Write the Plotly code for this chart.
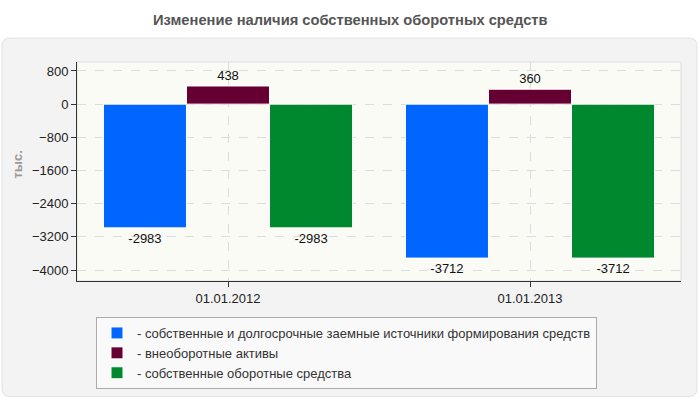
import plotly.graph_objects as go

categories = ["01.01.2012", "01.01.2013"]
series_names = [
    "- собственные и долгосрочные заемные источники формирования средств",
    "- внеоборотные активы",
    "- собственные оборотные средства",
]
values_own_long = [-2983, -3712]
values_noncurrent = [438, 360]
values_working = [-2983, -3712]
colors = ["#0066ff", "#660033", "#00882f"]
y_ticks = [800, 0, -800, -1600, -2400, -3200, -4000]

W, H = 700, 400
L, R, T, B = 77, 681, 62, 282

def px(x):
    return (x - L) / (R - L)

def py(y):
    return (B - y) / (B - T)

def rrect(x0, y0, x1, y1, r):
    def P(x, y):
        return f"{px(x):.5f},{py(y):.5f}"
    return (f"M {P(x0+r, y0)} L {P(x1-r, y0)} Q {P(x1, y0)} {P(x1, y0+r)} "
            f"L {P(x1, y1-r)} Q {P(x1, y1)} {P(x1-r, y1)} L {P(x0+r, y1)} "
            f"Q {P(x0, y1)} {P(x0, y1-r)} L {P(x0, y0+r)} Q {P(x0, y0)} {P(x0+r, y0)} Z")

fig = go.Figure()
for name, vals, col in zip(series_names, [values_own_long, values_noncurrent, values_working], colors):
    fig.add_trace(go.Bar(
        x=categories, y=vals, name=name,
        marker=dict(color=col, line=dict(color="white", width=1)),
        text=[str(v) for v in vals], textposition="outside",
        textfont=dict(family="Liberation Sans, Arial", size=13, color="#111"),
        cliponaxis=False,
    ))

font = "Liberation Sans, Arial, sans-serif"
fig.update_layout(
    width=W, height=H,
    margin=dict(l=L, r=W - R, t=T, b=H - B, pad=0),
    paper_bgcolor="white",
    plot_bgcolor="rgba(0,0,0,0)",
    barmode="group", bargap=0.175, bargroupgap=0,
    font=dict(family=font, size=13, color="#222"),
    showlegend=True,
    legend=dict(
        x=px(96), y=py(317), xanchor="left", yanchor="top",
        bgcolor="#f9f9f9", bordercolor="#aaaaaa", borderwidth=1,
        font=dict(family=font, size=13, color="#333"),
        tracegroupgap=0, itemwidth=30,
    ),
    xaxis=dict(
        range=[-0.5, 1.5], showline=True, linecolor="#333", linewidth=1,
        ticks="outside", ticklen=5, tickcolor="#333",
        showgrid=True, gridcolor="#dddddd", griddash="dash",
        tickfont=dict(family=font, size=13, color="#222"),
    ),
    yaxis=dict(
        range=[-4264, 1016], tickvals=y_ticks, showline=True, linecolor="#333", linewidth=1,
        ticks="outside", ticklen=5, tickcolor="#333",
        showgrid=True, gridcolor="#dddddd", griddash="dash", zeroline=False,
        tickfont=dict(family=font, size=13, color="#222"),
    ),
    shapes=[
        dict(type="path", xref="paper", yref="paper", layer="below",
             path=rrect(2, 38, 697, 398, 8), fillcolor="#f3f3f3",
             line=dict(color="#e2e2e2", width=1)),
        dict(type="rect", xref="paper", yref="paper", layer="below",
             x0=0, y0=0, x1=1, y1=1, fillcolor="#fbfbf6",
             line=dict(color="#dddddd", width=1)),
    ],
    annotations=[
        dict(text="<b>Изменение наличия собственных оборотных средств</b>",
             xref="paper", yref="paper", x=px(350), y=py(20), xanchor="center", yanchor="middle",
             showarrow=False, font=dict(family=font, size=14.7, color="#555")),
        dict(text="<b>тыс.</b>", textangle=-90,
             xref="paper", yref="paper", x=px(18), y=py(165), xanchor="center", yanchor="middle",
             showarrow=False, font=dict(family=font, size=13, color="#999")),
    ],
)

fig.write_html("out.html", config={"displayModeBar": False},
               post_script="document.body.style.margin='0';")
